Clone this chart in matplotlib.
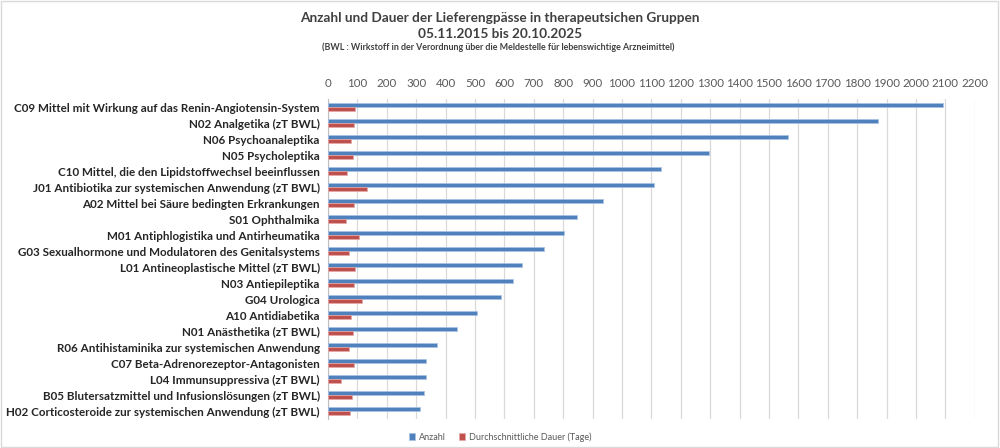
import matplotlib
matplotlib.use("Agg")
import matplotlib.pyplot as plt
import numpy as np

plt.rcParams.update({"font.family": ["Lato", "DejaVu Sans"], "font.size": 9})
BLUE, RED = "#4F81BD", "#C0504D"

groups = [
    "C09 Mittel mit Wirkung auf das Renin-Angiotensin-System",
    "N02 Analgetika (zT BWL)",
    "N06 Psychoanaleptika",
    "N05 Psycholeptika",
    "C10 Mittel, die den Lipidstoffwechsel beeinflussen",
    "J01 Antibiotika zur systemischen Anwendung (zT BWL)",
    "A02 Mittel bei Säure bedingten Erkrankungen",
    "S01 Ophthalmika",
    "M01 Antiphlogistika und Antirheumatika",
    "G03 Sexualhormone und Modulatoren des Genitalsystems",
    "L01 Antineoplastische Mittel (zT BWL)",
    "N03 Antiepileptika",
    "G04 Urologica",
    "A10 Antidiabetika",
    "N01 Anästhetika (zT BWL)",
    "R06 Antihistaminika zur systemischen Anwendung",
    "C07 Beta-Adrenorezeptor-Antagonisten",
    "L04 Immunsuppressiva (zT BWL)",
    "B05 Blutersatzmittel und Infusionslösungen (zT BWL)",
    "H02 Corticosteroide zur systemischen Anwendung (zT BWL)",
]
anzahl = [2091, 1872, 1565, 1296, 1134, 1110, 937, 846, 802, 736,
          660, 628, 588, 508, 440, 372, 333, 334, 328, 312]
dauer = [93, 87, 78, 85, 65, 134, 87, 60, 107, 71,
         93, 88, 115, 78, 85, 73, 87, 43, 83, 75]

fig = plt.figure(figsize=(10, 4.48), dpi=100)
ax = fig.add_axes([0.328, 0.0647, 0.6467, 0.714])
y = np.arange(len(groups))
h = 0.25
ax.barh(y - h/2, anzahl, height=h, color=BLUE, edgecolor="#a9c1e3", linewidth=0.5,
        label="Anzahl", zorder=3)
ax.barh(y + h/2, dauer, height=h, color=RED, edgecolor="#e3a9a8", linewidth=0.5,
        label="Durchschnittliche Dauer (Tage)", zorder=3)

ax.set_ylim(len(groups) - 0.5, -0.5)
ax.set_xlim(0, 2200)
ax.set_xticks(range(0, 2201, 100))
ax.xaxis.tick_top()
ax.tick_params(axis="x", length=0, pad=7, labelsize=8.3, colors="#595959")
ax.set_yticks(y)
ax.set_yticklabels(groups, fontweight="bold", fontsize=8.4, color="#262626")
ax.tick_params(axis="y", length=0, pad=6)
ax.grid(axis="x", color="#d9d9d9", linewidth=0.9, zorder=0)
for s in ["top", "right", "bottom"]:
    ax.spines[s].set_visible(False)
ax.spines["left"].set_color("#bfbfbf")

fig.text(0.5, 0.960, "Anzahl und Dauer der Lieferengpässe in therapeutsichen Gruppen",
         ha="center", va="center", fontsize=9.8, fontweight="bold", color="#404040")
fig.text(0.5, 0.925, "05.11.2015 bis 20.10.2025",
         ha="center", va="center", fontsize=9.8, fontweight="bold", color="#404040")
fig.text(0.498, 0.894,
         "(BWL : Wirkstoff in der Verordnung über die Meldestelle für lebenswichtige Arzneimittel)",
         ha="center", va="center", fontsize=6.4, fontweight="bold", color="#404040")

fig.legend(loc="center", bbox_to_anchor=(0.5, 0.025), ncol=2, frameon=False,
           fontsize=6.5, handlelength=0.7, handleheight=0.7, columnspacing=1.5,
           handletextpad=0.4, labelcolor="#595959")

fig.patches.append(plt.Rectangle((0.001, 0.002), 0.997, 0.996, transform=fig.transFigure,
                                 fill=False, edgecolor="#d9d9d9", linewidth=1))
fig.savefig("out.png", dpi=100)
